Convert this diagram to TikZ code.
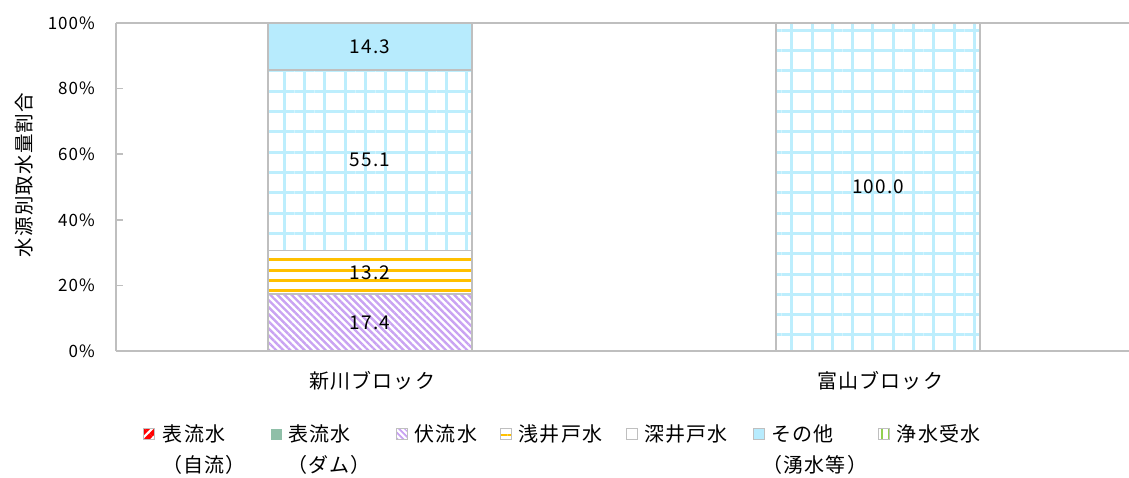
\documentclass[tikz,border=0pt]{standalone}
\usepackage{fontspec}
\setmainfont[LetterSpace=6]{Noto Sans CJK JP}
\usetikzlibrary{patterns.meta,positioning}
\definecolor{axisgray}{HTML}{BFBFBF}
\definecolor{fukuryucol}{HTML}{C9A3F2}
\definecolor{asaidocol}{HTML}{FFC000}
\definecolor{fukaidocol}{HTML}{BDEEFD}
\definecolor{sonotacol}{HTML}{B7EBFD}
\definecolor{damucol}{HTML}{8FBFA8}
\definecolor{jusuicol}{HTML}{92D050}
\tikzset{
	axisline/.style={draw=axisgray, line width=1.5pt},
	seg/.style={draw=axisgray, line width=1.5pt},
	fukuryu/.style={seg, pattern={Lines[angle=-45,distance=5pt,line width=2.4pt]}, pattern color=fukuryucol},
	stripe/.style={draw=asaidocol, line width=3pt},
	fukaido/.style={seg, pattern={Hatch[angle=0,distance=20.3pt,line width=3pt]}, pattern color=fukaidocol},
	sonota/.style={seg, fill=sonotacol},
	val/.style={font=\fontsize{19}{21}\selectfont},
	tick/.style={anchor=east, inner sep=0pt, font=\fontsize{17}{19}\selectfont},
	cat/.style={font=\fontsize{20}{22}\selectfont},
	legbox/.style={draw=axisgray, line width=0.8pt, minimum size=11pt, inner sep=0pt},
	legtext/.style={anchor=west, inner sep=0pt, font=\fontsize{20}{22}\selectfont}
}
\begin{document}
\begin{tikzpicture}[x=1pt, y=1pt]
	\useasboundingbox (0,0) rectangle (1129,477);
	
	\pgfmathsetmacro\yo{126};
	\pgfmathsetmacro\pc{3.28};
	\pgfmathsetmacro\ya{\yo+17.4*\pc};
	\pgfmathsetmacro\yb{\ya+13.2*\pc};
	\pgfmathsetmacro\yc{\yb+55.1*\pc};
	\pgfmathsetmacro\yd{\yc+14.3*\pc};
	
	% bars
	\draw[fukuryu] (268,\yo) rectangle (472,\ya);
	\foreach \s in {186.1,196.4,206.7,217}{
		\draw[stripe] (269,\s) -- (471,\s);
	}
	\draw[seg] (268,\ya) rectangle (472,\yb);
	\draw[fukaido] (268,\yb) rectangle (472,\yc);
	\draw[sonota] (268,\yc) rectangle (472,\yd);
	\draw[fukaido] (776,\yo) rectangle (980,\yd);
	
	\node[val] (s1) at (370,{(\yo+\ya)/2}) {17.4};
	\node[val] (s2) at (370,{(\ya+\yb)/2}) {13.2};
	\node[val] (s3) at (370,{(\yb+\yc)/2}) {55.1};
	\node[val] (s4) at (370,{(\yc+\yd)/2}) {14.3};
	\node[val] (s5) at (878,{(\yo+\yd)/2}) {100.0};
	
	% axes
	\draw[axisline] (116,\yo) -- (116,\yd);
	\draw[axisline] (116,\yo) -- (1129,\yo);
	\draw[axisline] (116,\yd) -- (1129,\yd);
	\foreach \p in {0,20,...,100}{
		\draw[axisline] (116,{\yo+\p*\pc}) -- ++(7,0);
		\node[tick] (t\p) at (95,{\yo+\p*\pc}) {\p\%};
	}
	\node[rotate=90, font=\fontsize{19.5}{21}\selectfont] (ytitle) at (24,302) {水源別取水量割合};
	
	\node[cat] (c1) at (372,96) {新川ブロック};
	\node[cat] (c2) at (880,96) {富山ブロック};
	
	% legend
	\node[legbox, pattern={Lines[angle=45,distance=7pt,line width=4.5pt]}, pattern color=red] (b1) at (149,43) {};
	\node[legbox, draw=none, fill=damucol] (b2) at (276,43) {};
	\node[legbox, pattern={Lines[angle=-45,distance=4pt,line width=2pt]}, pattern color=fukuryucol] (b3) at (402,43) {};
	\node[legbox, pattern={Lines[angle=0,distance=7pt,line width=2pt]}, pattern color=asaidocol] (b4) at (506,43) {};
	\node[legbox] (b5) at (632,43) {};
	\node[legbox, fill=sonotacol] (b6) at (759,43) {};
	\node[legbox, pattern={Lines[angle=90,distance=7pt,line width=2.5pt]}, pattern color=jusuicol] (b7) at (884,43) {};
	
	\node[legtext, right=6pt of b1] (l1) {表流水};
	\node[legtext, right=6pt of b2] (l2) {表流水};
	\node[legtext, right=6pt of b3] (l3) {伏流水};
	\node[legtext, right=6pt of b4] (l4) {浅井戸水};
	\node[legtext, right=6pt of b5] (l5) {深井戸水};
	\node[legtext, right=6pt of b6] (l6) {その他};
	\node[legtext, right=6pt of b7] (l7) {浄水受水};
	
	\node[legtext] (l1b) at (162,12) {（自流）};
	\node[legtext] (l2b) at (287,12) {（ダム）};
	\node[legtext] (l6b) at (762,12) {（湧水等）};
\end{tikzpicture}
\end{document}
